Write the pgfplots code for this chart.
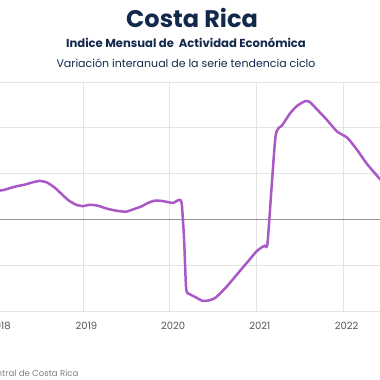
\documentclass[border=0pt]{standalone}
\usepackage{pgfplots}
\pgfplotsset{compat=1.18}
\usepackage{fontspec}
\setmainfont{Poppins}
\definecolor{navy}{HTML}{13294B}
\definecolor{curve}{HTML}{A958C6}
\definecolor{gridc}{HTML}{E3E3E3}
\definecolor{tick}{HTML}{555555}
\begin{document}
\begin{tikzpicture}[x=1pt,y=1pt]
\path[use as bounding box, clip] (0,0) rectangle (380,380);
\node[text=navy,font=\fontsize{24}{28}\selectfont\bfseries] at (192,362) {Costa Rica};
\node[text=navy,font=\fontsize{11.6}{13}\selectfont\bfseries] at (186,337) {Indice Mensual de\ \ Actividad Económica};
\node[text=navy,font=\fontsize{11}{13}\selectfont] at (186,317) {Variación interanual de la serie tendencia ciclo};
\node[anchor=base east,text=gray,font=\fontsize{8.6}{10}\selectfont] at (82,3.5) {Fuente: Banco Central de Costa Rica};
\begin{axis}[at={(-12.37pt,69pt)}, anchor=south west, scale only axis,
  width=407.5pt, height=229pt,
  xmin=2017.9, xmax=2022.6, ymin=-10, ymax=15,
  axis line style={draw=none}, major tick length=0pt,
  xtick={2018,2019,2020,2021,2022},
  xticklabels={2018,2019,2020,2021,2022},
  ytick={-10,-5,0,5,10,15}, yticklabels={},
  xmajorgrids, ymajorgrids,
  grid style={gridc, line width=1pt},
  xticklabel style={anchor=base, yshift=-18pt, xshift=3.5pt, text=tick, font=\fontsize{10}{12}\selectfont},
  clip=true]
\addplot[draw=gray!85, line width=1.1pt] coordinates {(2017.9,0) (2022.6,0)};
\addplot[draw=curve, line width=2.5pt, line join=round, smooth, tension=0.35] coordinates {
(2017.92,3.0) (2018.00,3.1) (2018.08,3.2) (2018.17,3.45) (2018.25,3.65) (2018.33,3.8)
(2018.42,4.05) (2018.50,4.2) (2018.58,4.05) (2018.67,3.5) (2018.75,2.8) (2018.83,2.1)
(2018.92,1.6) (2019.00,1.45) (2019.08,1.6) (2019.17,1.5) (2019.25,1.25) (2019.33,1.05)
(2019.42,0.9) (2019.50,0.85) (2019.58,1.1) (2019.67,1.4) (2019.75,1.8) (2019.83,2.05)
(2019.92,2.0) (2020.00,1.85) (2020.04,1.8) (2020.08,2.0) (2020.12,2.15) (2020.14,1.6)
(2020.165,-2.0) (2020.19,-7.6) (2020.23,-8.15) (2020.30,-8.5) (2020.38,-8.9) (2020.45,-8.85)
(2020.52,-8.6) (2020.58,-8.1) (2020.67,-7.2) (2020.75,-6.3) (2020.83,-5.4) (2020.92,-4.4)
(2021.00,-3.5) (2021.06,-3.05) (2021.10,-2.85) (2021.13,-2.4) (2021.22,9.0) (2021.30,10.3)
(2021.39,11.6) (2021.47,12.4) (2021.56,12.9) (2021.61,12.85) (2021.65,12.5) (2021.73,11.7)
(2021.81,10.9) (2021.93,9.6) (2022.05,8.9) (2022.16,7.6) (2022.28,6.0) (2022.43,4.35)
(2022.50,3.6) (2022.60,2.9)};
\end{axis}
\end{tikzpicture}
\end{document}
